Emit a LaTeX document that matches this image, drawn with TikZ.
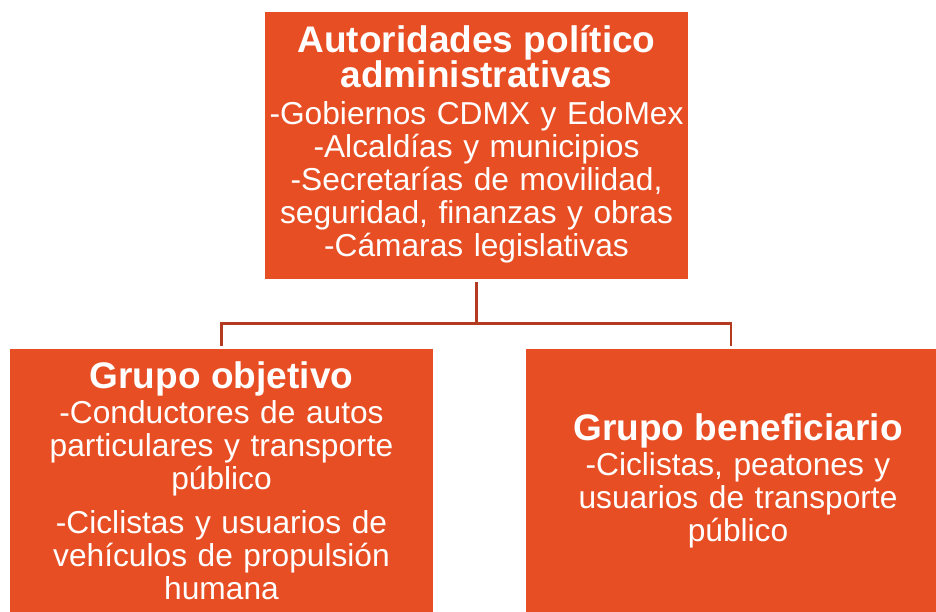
\documentclass[tikz,border=0pt]{standalone}
\usepackage{fontspec}
\setmainfont{Liberation Sans}
\usepackage{tikz}
\definecolor{BoxOrange}{HTML}{E84E24}
\definecolor{LinkRust}{HTML}{B53B20}
\newcommand{\headfont}{\fontsize{37}{35}\selectfont\bfseries}

\begin{document}
\begin{tikzpicture}[x=1pt,y=-1pt,
  every node/.style={font=\fontsize{31.7}{33}\selectfont, text=white},
  orgbox/.style={fill=BoxOrange, draw=none, inner sep=0pt, align=center},
  link/.style={draw=LinkRust, line width=2.6pt}]
  \useasboundingbox (0,0) rectangle (936,612);
  \node[orgbox, minimum width=423pt, minimum height=267pt, text width=419pt] (autoridades) at (476.5,145.5)
    {{\headfont Autoridades político\\ administrativas\par}\vspace{4pt}
     -Gobiernos CDMX y EdoMex\\ -Alcaldías y municipios\\ -Secretarías de movilidad,\\ seguridad, finanzas y obras\\ -Cámaras legislativas\par\vspace{2pt}};
  \node[orgbox, minimum width=423pt, minimum height=263pt, text width=419pt] (objetivo) at (221.5,480.5)
    {{\headfont Grupo objetivo\par}\vspace{2pt}
     -Conductores de autos\\ particulares y transporte\\ público\par\vspace{11pt}
     -Ciclistas y usuarios de\\ vehículos de propulsión\\ humana\par};
  % box runs past the right edge of the page
  \node[orgbox, minimum width=424pt, minimum height=263pt, text width=420pt] (beneficiario) at (738,480.5)
    {{\headfont Grupo beneficiario\par}\vspace{2pt}
     -Ciclistas, peatones y\\ usuarios de transporte\\ público\par};
  \coordinate (junction) at ([yshift=-44pt]autoridades.south);
  \draw[link] ([yshift=-3pt]autoridades.south) -- (junction) -| ([yshift=3pt]objetivo.north);
  \draw[link] (junction) -| ([xshift=-7pt,yshift=3pt]beneficiario.north);
\end{tikzpicture}
\end{document}
